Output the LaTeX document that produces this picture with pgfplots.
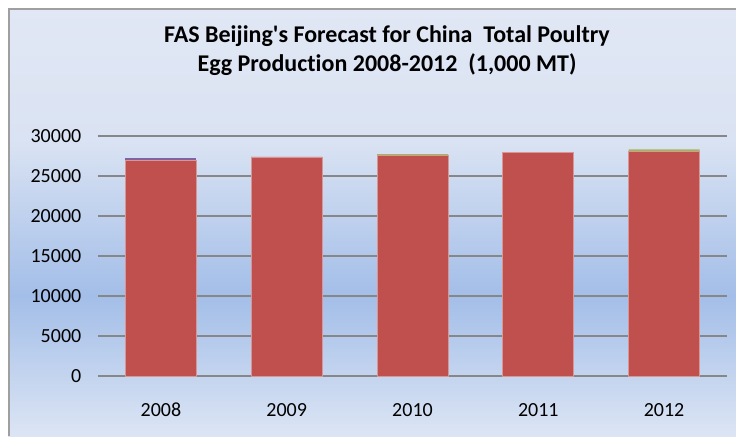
\documentclass[border=0pt]{standalone}
\usepackage{pgfplots}
\pgfplotsset{compat=1.18}
\usepackage{fontspec}
\setmainfont{Carlito}[Ligatures=NoCommon]

\definecolor{barred}{HTML}{C0504D}
\definecolor{barredl}{HTML}{D99694}
\definecolor{barpurple}{HTML}{8064A2}
\definecolor{bargreen}{HTML}{9BBB59}
\definecolor{bgtop}{HTML}{E1E7F4}
\definecolor{bgmid}{HTML}{DAE3F3}
\definecolor{bgblue}{HTML}{A3BEE8}
\definecolor{bgbot}{HTML}{DCE5F4}
\definecolor{gridgray}{HTML}{878787}

\begin{document}
\begin{tikzpicture}
  % canvas 736x436 px, 1px = 0.75pt
  \path[use as bounding box] (0,0) rectangle (552pt,327pt);
  \begin{scope}[x=0.75pt,y=0.75pt]
    \shade[top color=bgtop,bottom color=bgmid] (8,296) rectangle (736,427);
    \shade[top color=bgmid,bottom color=bgblue] (8,140) rectangle (736,296.2);
    \shade[top color=bgblue,bottom color=bgbot] (8,0) rectangle (736,140.2);
    \draw[color=gray!75,line width=1.5pt] (8.5,0) -- (8.5,427) -- (736,427);
    \node[font=\bfseries\fontsize{18}{21.6}\selectfont,align=center] at (387,385)
      {FAS Beijing\textquotesingle s Forecast for China\ \ Total Poultry\\Egg Production 2008-2012\ \ (1,000 MT)};
  \end{scope}
  \begin{axis}[
    at={(73.5pt,45pt)}, anchor=south west,
    scale only axis,
    width=471.75pt, height=180pt,
    ybar stacked,
    bar width=53.25pt,
    xmin=-0.5, xmax=4.5,
    ymin=0, ymax=30000,
    ytick={0,5000,...,30000},
    scaled y ticks=false,
    xtick=data,
    xticklabels={2008,2009,2010,2011,2012},
    axis line style={draw=none},
    tick style={draw=none},
    ymajorgrids,
    major grid style={draw=gridgray,line width=0.9pt},
    /pgf/number format/assume math mode=true,
    /pgf/number format/1000 sep={},
    ticklabel style={font=\fontsize{15}{18}\selectfont},
    yticklabel style={xshift=-9pt},
    xticklabel style={anchor=base,yshift=-30pt},
    clip=false,
  ]
  % main series
  \addplot[fill=barred,draw=barredl,line width=0.5pt] coordinates {
    (0,27000) (1,27380) (2,27540) (3,27960) (4,28090)};
  % small addition (2008)
  \addplot[fill=barpurple,draw=none] coordinates {
    (0,250) (1,0) (2,0) (3,0) (4,0)};
  % small addition (2010, 2012)
  \addplot[fill=bargreen,draw=none] coordinates {
    (0,0) (1,0) (2,210) (3,0) (4,250)};
  \end{axis}
\end{tikzpicture}
\end{document}
